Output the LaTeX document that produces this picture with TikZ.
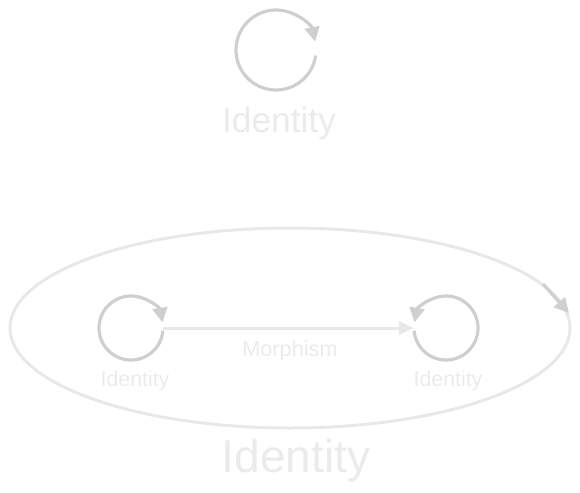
\documentclass[tikz,border=0pt]{standalone}
\usepackage{fontspec}
\setmainfont{Liberation Sans}
\usetikzlibrary{arrows.meta,shapes.geometric}
\definecolor{loopgray}{HTML}{CFCFCF}
\definecolor{edgegray}{HTML}{E8E8E8}
\definecolor{textgray}{HTML}{EBEBEB}
\tikzset{
  loopline/.style={draw=loopgray,line width=2.4pt,-{Triangle[length=11pt,width=11pt]}},
  morph/.style={draw=edgegray,line width=2.25pt,-{Triangle[length=11pt,width=10pt]}},
  clusterline/.style={draw=edgegray,line width=2.25pt},
  lbl/.style={text=textgray,anchor=base,inner sep=0pt},
  obj/.style={circle,inner sep=0pt,minimum size=48pt},
}
\begin{document}
\begin{tikzpicture}[x=0.75pt,y=-0.75pt]
\useasboundingbox (0,0) rectangle (580,492);
% cluster ellipse
\node[ellipse,clusterline,minimum width=420pt,minimum height=150pt,inner sep=0pt] (cluster) at (290,328) {};
% objects
\coordinate (top) at (276,50);
\node[obj] (a) at (131,328) {};
\node[obj] (b) at (446,328) {};
% top loop
\draw[loopline] ([shift={(8:40)}]top) arc[start angle=8,end angle=348,radius=40];
% left loop
\draw[loopline] ([shift={(5:32)}]a.center) arc[start angle=5,end angle=350,radius=32];
% right loop
\draw[loopline] ([shift={(175:32)}]b.center) arc[start angle=175,end angle=-170,radius=32];
% morphism
\draw[morph] (a.east) -- (b.west);
% cluster identity arrow
\coordinate (e1) at (543,284);
\coordinate (e2) at (569,313);
\draw[loopline] (e1) -- (e2);
% labels
\node[lbl,font=\fontsize{26.5pt}{30pt}\selectfont] (ltop) at (279,132) {Identity};
\node[lbl,font=\fontsize{16pt}{19pt}\selectfont] (la) at (135,386) {Identity};
\node[lbl,font=\fontsize{16pt}{19pt}\selectfont] (lb) at (448,386) {Identity};
\node[lbl,font=\fontsize{16.3pt}{19pt}\selectfont] (lm) at (290,356) {Morphism};
\node[lbl,font=\fontsize{34.5pt}{40pt}\selectfont] (lc) at (296,472) {Identity};
\end{tikzpicture}
\end{document}
